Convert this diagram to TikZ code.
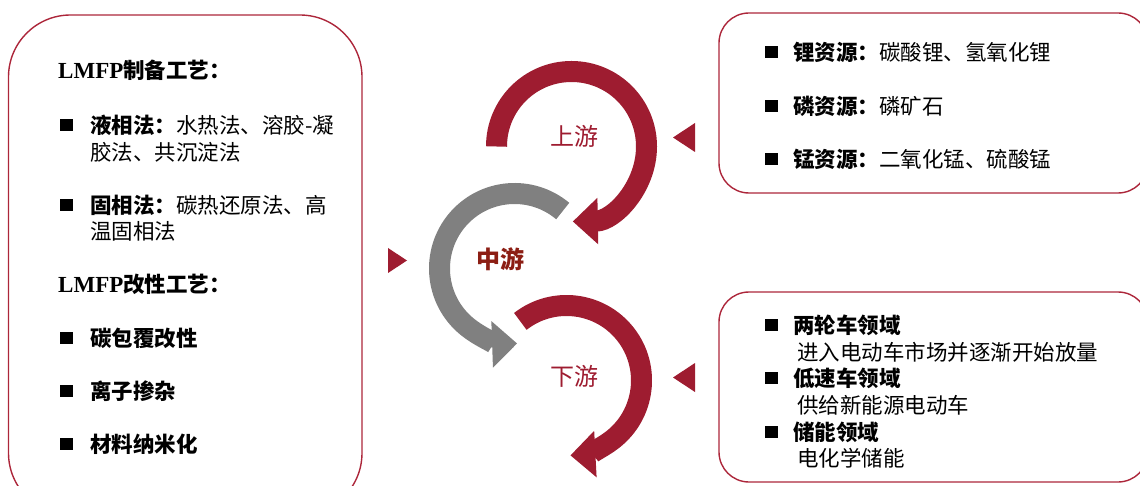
\documentclass[tikz,border=0pt]{standalone}
\usepackage{fontspec}
\usetikzlibrary{arrows.meta,calc}
\newfontfamily\cjk{Noto Sans CJK SC}
\newfontfamily\serifL{Liberation Serif}
\definecolor{arrowred}{RGB}{158,28,48}
\definecolor{framered}{RGB}{172,38,58}
\definecolor{arrowgray}{RGB}{128,128,128}
\definecolor{midtext}{RGB}{140,30,20}
\newcommand{\lmfp}{{\serifL\bfseries\fontsize{23}{24}\selectfont LMFP}}
\tikzset{
  frame/.style={draw=framered, line width=1.4pt, rounded corners=#1, inner sep=0pt},
  txt/.style={anchor=west, inner sep=0pt, text=black, font=\cjk\fontsize{21.5}{24}\selectfont},
  hd/.style={txt, font=\cjk\bfseries\fontsize{21.5}{24}\selectfont},
  bul/.style={fill=black, minimum size=12.5pt, inner sep=0pt},
  stage/.style={inner sep=0pt, font=\cjk\fontsize{24}{26}\selectfont},
  band/.style={line width=21pt},
  outline/.style={preaction={draw=white, line width=25pt, -{Triangle[width=52pt,length=29pt]}}},
  headtip/.style={-{Triangle[width=45pt,length=25pt]}},
}
\begin{document}
\begin{tikzpicture}[x=1pt,y=-1pt]
\useasboundingbox (0,0) rectangle (1140,486);

% frames
\node[frame=62pt, minimum width=353.5pt, minimum height=500pt] (lbox) at (185.25,265) {};
\node[frame=30pt, minimum width=429pt, minimum height=180pt] (ubox) at (933.5,103) {};
\node[frame=30pt, minimum width=429pt, minimum height=190pt] (dbox) at (933.5,387) {};

% left panel text
\node[hd] (l1) at (58,70) {\lmfp 制备工艺：};
\node[bul] (lb1) at (66.5,125) {};
\node[txt] (l2) at (90,125) {\textbf{液相法：}水热法、溶胶-凝};
\node[txt] (l3) at (90,152) {胶法、共沉淀法};
\node[bul] (lb2) at (66.5,205) {};
\node[txt] (l4) at (90,205) {\textbf{固相法：}碳热还原法、高};
\node[txt] (l5) at (90,231) {温固相法};
\node[hd] (l6) at (58,284) {\lmfp 改性工艺：};
\node[bul] (lb3) at (66.5,338) {};
\node[hd] (l7) at (90,338) {碳包覆改性};
\node[bul] (lb4) at (66.5,391) {};
\node[hd] (l8) at (90,391) {离子掺杂};
\node[bul] (lb5) at (66.5,444) {};
\node[hd] (l9) at (90,444) {材料纳米化};

% upstream panel text
\node[bul] (ub1) at (771.5,52) {};
\node[txt] (u1) at (793,52) {\textbf{锂资源：}碳酸锂、氢氧化锂};
\node[bul] (ub2) at (771.5,106) {};
\node[txt] (u2) at (793,106) {\textbf{磷资源：}磷矿石};
\node[bul] (ub3) at (771.5,159) {};
\node[txt] (u3) at (793,159) {\textbf{锰资源：}二氧化锰、硫酸锰};

% downstream panel text
\node[bul] (db1) at (771.5,325) {};
\node[hd] (d1) at (793,325) {两轮车领域};
\node[txt] (d2) at (797,352) {进入电动车市场并逐渐开始放量};
\node[bul] (db2) at (771.5,378) {};
\node[hd] (d3) at (793,378) {低速车领域};
\node[txt] (d4) at (797,405) {供给新能源电动车};
\node[bul] (db3) at (771.5,432) {};
\node[hd] (d5) at (793,432) {储能领域};
\node[txt] (d6) at (797,458) {电化学储能};

% small pointers
\fill[arrowred] (388,248) -- (388,273) -- (407,260.5) -- cycle;
\fill[arrowred] (695,123) -- (695,152) -- (673,137.5) -- cycle;
\fill[arrowred] (695,363) -- (695,392) -- (673,377.5) -- cycle;

% circular arrows
\coordinate (cu) at (571.5,146.5);
\coordinate (cm) at (514.5,268.5);
\coordinate (cd) at (566.5,380.5);
\draw[arrowred, band, headtip] ($(cd)+(232:75)$) arc[start angle=232, end angle=447, radius=75];
\draw[arrowgray, band, headtip, outline] ($(cm)+(310:75)$) arc[start angle=310, end angle=88, radius=75];
\draw[arrowred, band, headtip, outline] ($(cu)+(180:75)$) arc[start angle=180, end angle=449, radius=75];

% stage labels
\node[stage, text=arrowred] (up) at (574,136) {上游};
\node[stage, text=midtext, font=\cjk\bfseries\fontsize{24}{26}\selectfont] (mid) at (500,259) {中游};
\node[stage, text=arrowred] (down) at (574,376) {下游};
\end{tikzpicture}
\end{document}
